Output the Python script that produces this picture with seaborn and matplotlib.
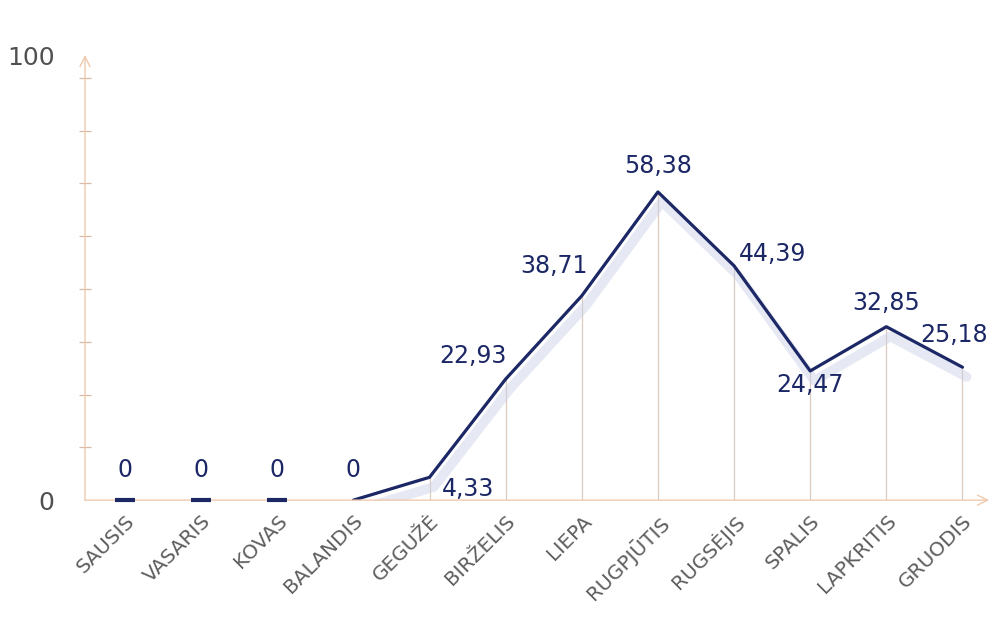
import numpy as np
import pandas as pd
import matplotlib
matplotlib.use("Agg")
import matplotlib.pyplot as plt
import matplotlib.patheffects as pe
import seaborn as sns

# data
months = ["SAUSIS", "VASARIS", "KOVAS", "BALANDIS", "GEGUŽĖ", "BIRŽELIS",
          "LIEPA", "RUGPJŪTIS", "RUGSĖJIS", "SPALIS", "LAPKRITIS", "GRUODIS"]
values = [0, 0, 0, 0, 4.33, 22.93, 38.71, 58.38, 44.39, 24.47, 32.85, 25.18]
value_labels = ["0", "0", "0", "0", "4,33", "22,93", "38,71", "58,38",
                "44,39", "24,47", "32,85", "25,18"]
y_tick_labels = ["0", "100"]

df = pd.DataFrame({"month": months, "value": values, "label": value_labels})
df["pos"] = np.arange(len(df))

sns.set_theme(style="white")
plt.rcParams["font.family"] = ["DejaVu Sans"]

navy = "#1c2766"
axis_col = "#efc9ad"
drop_col = "#dccbc0"

fig = plt.figure(figsize=(9.94, 6.19), dpi=100)
ax = fig.add_axes([0.0855, 0.192, 0.905, 0.719])

ymax = 84.3
ax.set_xlim(-0.525, 11.29)
ax.set_ylim(0, ymax)

# drop lines from the points down to the axis
nz = df[df["value"] > 0]
ax.vlines(nz["pos"], 0, nz["value"], color=drop_col, lw=0.9, zorder=1)

# line from BALANDIS onwards, with a soft shadow
line_df = df[df["pos"] >= 3]
sns.lineplot(data=line_df, x="pos", y="value", ax=ax, color=navy, lw=2.3,
             zorder=3, path_effects=[pe.SimpleLineShadow(offset=(3, -7), shadow_color="#c8cfe6",
                                                         alpha=0.45, rho=1.0, linewidth=7),
                                     pe.Normal()])

# zero months shown as short dashes
zero_df = df[df["pos"] < 3]
ax.plot(zero_df["pos"], zero_df["value"], ls="none", marker="_", ms=14, mew=3,
        color=navy, zorder=4, clip_on=False)

# value labels
offsets = {0: (0, 30, "center"), 1: (0, 30, "center"), 2: (0, 30, "center"),
           3: (0, 30, "center"), 4: (12, -12, "left"), 5: (-33, 23, "center"),
           6: (-28, 30, "center"), 7: (0, 26, "center"), 8: (38, 12, "center"),
           9: (0, -14, "center"), 10: (0, 24, "center"), 11: (-8, 32, "center")}
for i, r in df.iterrows():
    dx, dy, ha = offsets[i]
    ax.annotate(r["label"], (r["pos"], r["value"]), xytext=(dx, dy),
                textcoords="offset pixels", ha=ha, va="center",
                fontsize=17, color=navy, zorder=5)

# axes with arrow heads
for s in ax.spines.values():
    s.set_visible(False)
ax.annotate("", xy=(1.005, 0), xytext=(0, 0), xycoords="axes fraction",
            arrowprops=dict(arrowstyle="->", color=axis_col, lw=1.0,
                            mutation_scale=18, shrinkA=0, shrinkB=0))
ax.annotate("", xy=(0, 1.0), xytext=(0, 0), xycoords="axes fraction",
            arrowprops=dict(arrowstyle="->", color=axis_col, lw=1.0,
                            mutation_scale=18, shrinkA=0, shrinkB=0))

ax.set_xticks(df["pos"])
ax.set_xticklabels(df["month"], rotation=45, ha="right", rotation_mode="anchor",
                   fontsize=14.5, color="#5e5e5e")
ax.set_yticks([0, ymax])
ax.set_yticklabels(y_tick_labels, fontsize=18, color="#505050")
ax.set_yticks(np.arange(10, 90, 10), minor=True)
ax.tick_params(axis="x", length=0, pad=8)
ax.tick_params(axis="y", which="major", length=0, pad=22)
ax.tick_params(axis="y", which="minor", direction="inout", length=8,
               width=0.9, color="#d9b9a5", left=True)
ax.set_xlabel("")
ax.set_ylabel("")
ax.grid(False)

fig.savefig("out.png", dpi=100, facecolor="white")
